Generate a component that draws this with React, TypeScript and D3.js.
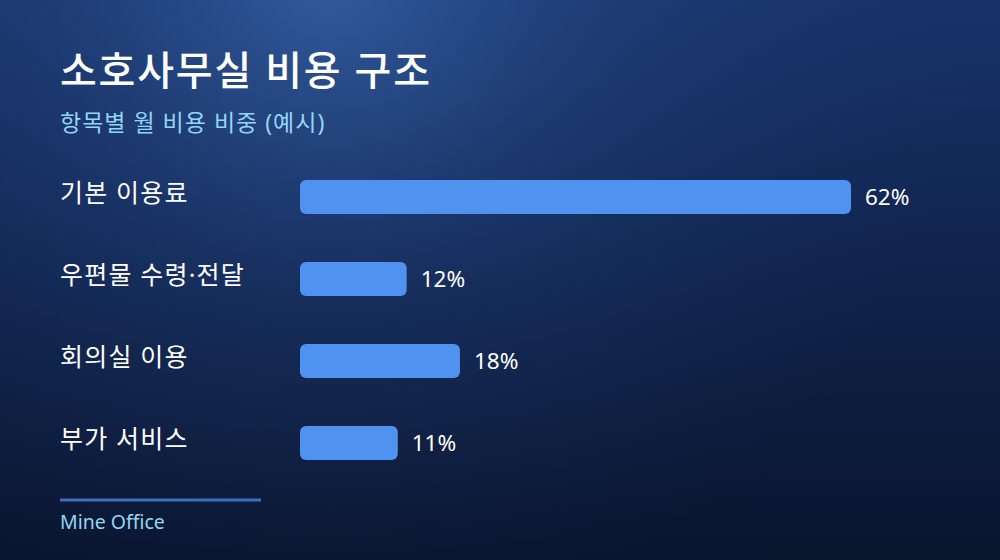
import React from 'react';
import * as d3 from 'd3';

// 데이터
const categories = ['기본 이용료', '우편물 수령·전달', '회의실 이용', '부가 서비스'];
const shares = [62, 12, 18, 11];

const title = '소호사무실 비용 구조';
const subtitle = '항목별 월 비용 비중 (예시)';
const footer = 'Mine Office';

const W = 1000;
const H = 560;
const FONT = '"Noto Sans", "Noto Sans CJK KR", sans-serif';

export default function App() {
  const rows = categories.map((c, i) => ({ name: c, value: shares[i] }));

  // x: 막대 길이, y: 행 위치
  const x = d3.scaleLinear()
    .domain([0, d3.max(shares) || 0])
    .range([0, 551]);

  const y = d3.scaleBand()
    .domain(categories)
    .range([180, 460])
    .paddingInner(0.585)
    .paddingOuter(0);

  const barLeft = 300;

  return (
    <svg width={W} height={H} style={{ display: 'block', position: 'absolute', left: 0, top: 0 }}>
      <defs>
        <linearGradient id="bgLin" x1="0" y1="0" x2="0" y2="1">
          <stop offset="0%" stopColor="#18336a" />
          <stop offset="55%" stopColor="#0f2148" />
          <stop offset="100%" stopColor="#0a152e" />
        </linearGradient>
        <radialGradient id="bgGlow" cx="330" cy="-20" r="650" gradientUnits="userSpaceOnUse">
          <stop offset="0%" stopColor="#3a68ad" stopOpacity="0.75" />
          <stop offset="45%" stopColor="#2a5090" stopOpacity="0.3" />
          <stop offset="100%" stopColor="#1a3566" stopOpacity="0" />
        </radialGradient>
      </defs>

      <rect width={W} height={H} fill="url(#bgLin)" />
      <rect width={W} height={H} fill="url(#bgGlow)" />

      <text x={60} y={85} fill="#ffffff" fontFamily={FONT} fontSize={40} fontWeight={500} letterSpacing={1.8}>
        {title}
      </text>
      <text x={60} y={131} fill="#93d6f4" fontFamily={FONT} fontSize={23} letterSpacing={1}>
        {subtitle}
      </text>

      {rows.map((d) => {
        const yy = y(d.name) || 0;
        const cy = yy + y.bandwidth() / 2;
        return (
          <g key={d.name}>
            <text
              x={60}
              y={cy}
              dy="0.2em"
              fill="#ffffff"
              fontFamily={FONT}
              fontSize={25}
              letterSpacing={1.2}
            >
              {d.name}
            </text>
            <rect
              x={barLeft}
              y={yy}
              width={x(d.value)}
              height={y.bandwidth()}
              rx={6}
              fill="#5092f0"
            />
            <text
              x={barLeft + x(d.value) + 14}
              y={cy}
              dy="0.35em"
              fill="#ffffff"
              fontFamily={FONT}
              fontSize={22.5}
            >
              {d.value}%
            </text>
          </g>
        );
      })}

      <line x1={60} x2={261} y1={500} y2={500} stroke="#3f6dbf" strokeWidth={3} />
      <text x={60} y={529} fill="#93d6f4" fontFamily={FONT} fontSize={19.5}>
        {footer}
      </text>
    </svg>
  );
}
